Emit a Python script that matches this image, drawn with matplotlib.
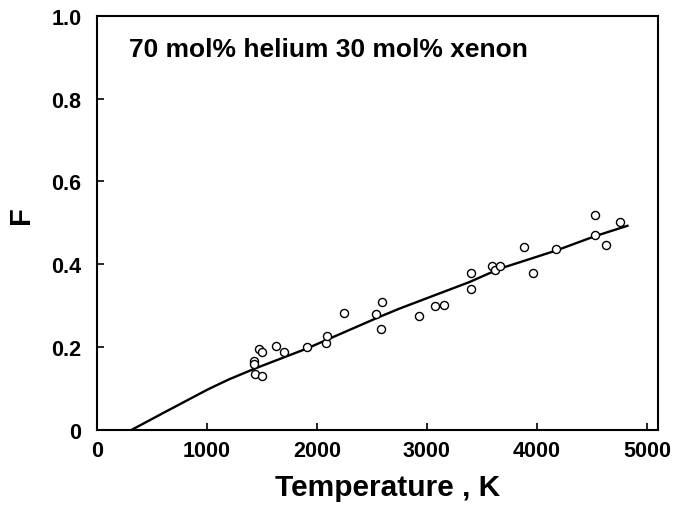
import numpy as np
import matplotlib
matplotlib.use('Agg')
from matplotlib import pyplot as plt

# measured points (temperature K, F)
temp_pts = [1425, 1425, 1437, 1503, 1470, 1500, 1627, 1697, 1908, 2087, 2096,
            2250, 2541, 2583, 2589, 2931, 3076, 3155, 3397, 3400, 3587, 3621,
            3663, 3884, 3966, 4174, 4528, 4528, 4625, 4752]
f_pts = [0.166, 0.160, 0.134, 0.131, 0.196, 0.189, 0.202, 0.189, 0.201, 0.211, 0.228,
         0.283, 0.279, 0.243, 0.310, 0.276, 0.300, 0.302, 0.380, 0.340, 0.395, 0.386,
         0.396, 0.441, 0.379, 0.438, 0.520, 0.470, 0.447, 0.502]

# calculated curve
temp_line = [315, 632, 1010, 1200, 1434, 1903, 2568, 2750, 3385, 3657, 4171, 4528, 4822]
f_line = [0.0, 0.045, 0.098, 0.122, 0.148, 0.196, 0.273, 0.293, 0.357, 0.389, 0.433, 0.468, 0.493]

xticks = [0, 1000, 2000, 3000, 4000, 5000]
yticks = [0, 0.2, 0.4, 0.6, 0.8, 1.0]
ylabels = ['0', '0.2', '0.4', '0.6', '0.8', '1.0']

plt.rcParams['font.family'] = ['Liberation Sans', 'DejaVu Sans']
plt.rcParams['font.weight'] = 'bold'

fig = plt.figure(figsize=(6.77, 5.10), dpi=100)
ax = fig.add_axes([0.143, 0.155, 0.829, 0.812])

ax.plot(temp_line, f_line, color='black', lw=1.7)
ax.plot(temp_pts, f_pts, 'o', mfc='white', mec='black', ms=5.8, mew=1.0)

ax.set_xlim(0, 5100)
ax.set_ylim(0, 1.0)
ax.set_xticks(xticks)
ax.set_xticklabels([str(t) for t in xticks])
ax.set_yticks(yticks)
ax.set_yticklabels(ylabels)
ax.tick_params(direction='in', length=5, width=1.2, labelsize=15.5)
ax.tick_params(axis='x', pad=7)
ax.tick_params(axis='y', pad=11)
for s in ax.spines.values():
    s.set_linewidth(1.5)

ax.set_xlabel('Temperature , K', fontsize=21.5, fontweight='bold')
ax.xaxis.set_label_coords(0.518, -0.105)
ax.set_ylabel('F', fontsize=21, fontweight='bold')
ax.yaxis.set_label_coords(-0.11, 0.522)

ax.text(0.058, 0.921, '70 mol% helium 30 mol% xenon', transform=ax.transAxes,
        fontsize=19, fontweight='bold', va='center')

fig.savefig('out.png', dpi=100)
